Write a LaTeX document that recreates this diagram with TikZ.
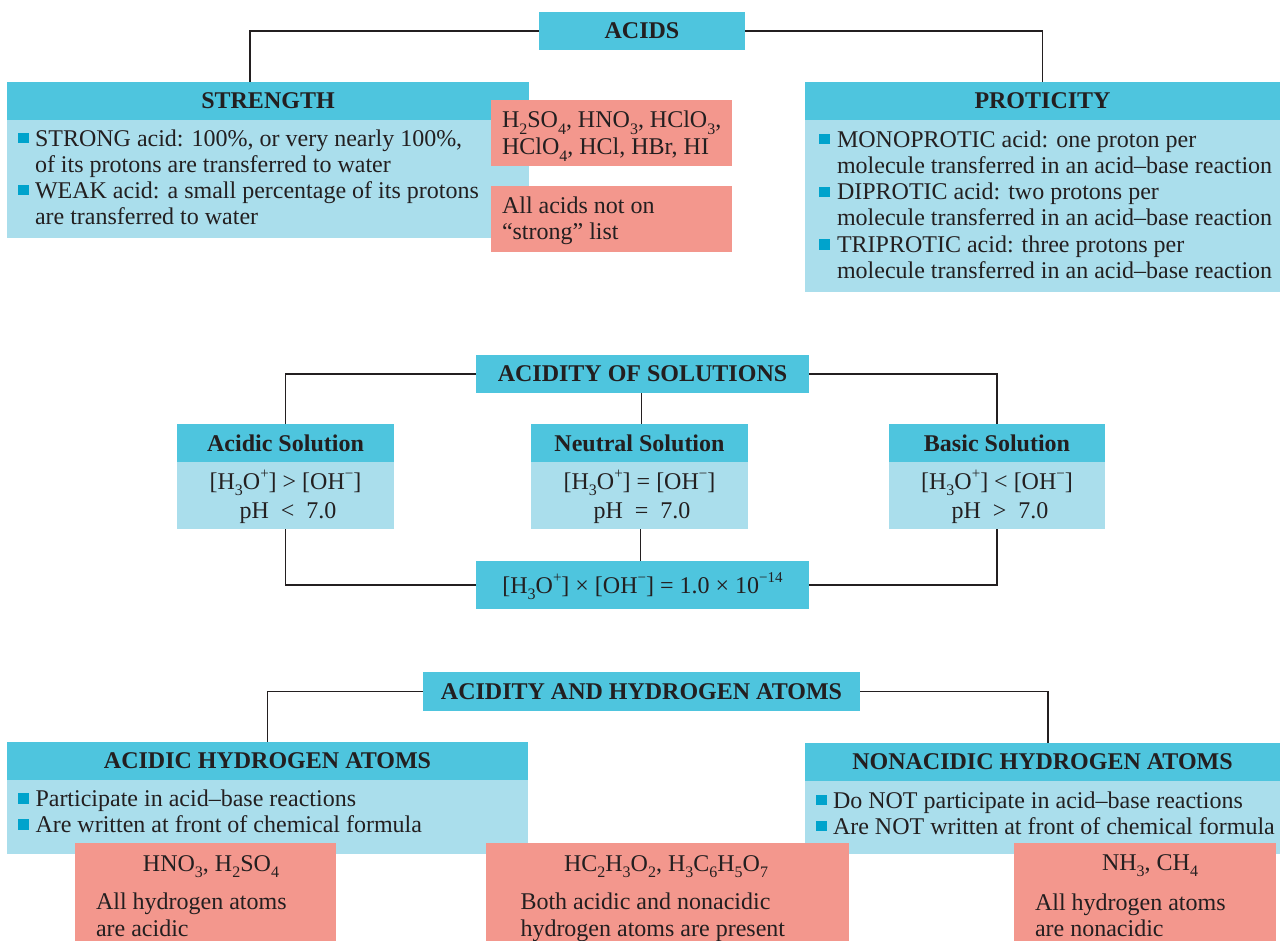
\documentclass[tikz,border=0pt]{standalone}
\usepackage{fontspec}
\setmainfont{Liberation Serif}
\definecolor{hdrc}{HTML}{4EC5DE}
\definecolor{bodyc}{HTML}{AADEEC}
\definecolor{salc}{HTML}{F3978D}
\definecolor{bulc}{HTML}{00A3CC}
\definecolor{ink}{HTML}{231F20}
\newcommand\sbs[1]{\raisebox{-0.27em}{\fontsize{16}{16}\selectfont #1}}
\newcommand\sps[1]{\raisebox{0.45em}{\fontsize{15}{15}\selectfont #1}}
\newcommand\mns{−}
\begin{document}
\begin{tikzpicture}[x=1pt,y=-1pt,
  every node/.style={inner sep=0pt, outer sep=0pt, text=ink},
  hdr/.style={fill=hdrc, anchor=north west, font=\bfseries\fontsize{24}{26}\selectfont},
  bodybox/.style={fill=bodyc, anchor=north west},
  salm/.style={fill=salc, anchor=north west},
  txt/.style={anchor=base west, font=\fontsize{24}{26}\selectfont},
  ctxt/.style={anchor=base, font=\fontsize{24}{26}\selectfont},
  bul/.style={fill=bulc, minimum width=11pt, minimum height=10.5pt, anchor=north west},
  conn/.style={draw=ink, line width=1.3pt}
]
\useasboundingbox (0,0) rectangle (1280,941);
\fill[white] (0,0) rectangle (1280,941);

% ---------------- ACIDS ----------------
\node[hdr, minimum width=206pt, minimum height=38pt] (acids) at (539,12) {ACIDS};

\node[bodybox, minimum width=522pt, minimum height=118pt] (strB) at (7,120) {};
\node[hdr, minimum width=522pt, minimum height=38pt] (strH) at (7,82) {STRENGTH};
\node[bul] (sb1) at (18,133) {};
\node[txt] (st1) at (35,147) {STRONG acid: 100\%, or very nearly 100\%,};
\node[txt] (st2) at (35,173) {of its protons are transferred to water};
\node[bul] (sb2) at (18,185) {};
\node[txt] (st3) at (35,199) {WEAK acid: a small percentage of its protons};
\node[txt] (st4) at (35,225) {are transferred to water};

\node[salm, minimum width=241pt, minimum height=66pt] (sal1) at (491,100) {};
\node[txt] (sa1) at (502,128) {H\sbs{2}SO\sbs{4}, HNO\sbs{3}, HClO\sbs{3},};
\node[txt] (sa2) at (502,155) {HClO\sbs{4}, HCl, HBr, HI};
\node[salm, minimum width=241pt, minimum height=66pt] (sal2) at (491,186) {};
\node[txt] (sa3) at (502,214) {All acids not on};
\node[txt] (sa4) at (502,240) {“strong” list};

\node[bodybox, minimum width=475pt, minimum height=172pt] (proB) at (805,120) {};
\node[hdr, minimum width=475pt, minimum height=38pt] (proH) at (805,82) {PROTICITY};
\node[bul] (pb1) at (819,134) {};
\node[txt] (pt1) at (837,147.3) {MONOPROTIC acid: one proton per};
\node[txt] (pt2) at (837,173.3) {molecule transferred in an acid–base reaction};
\node[bul] (pb2) at (819,187) {};
\node[txt] (pt3) at (837,199.6) {DIPROTIC acid: two protons per};
\node[txt] (pt4) at (837,226) {molecule transferred in an acid–base reaction};
\node[bul] (pb3) at (819,239.5) {};
\node[txt] (pt5) at (837,252.7) {TRIPROTIC acid: three protons per};
\node[txt] (pt6) at (837,278.5) {molecule transferred in an acid–base reaction};

\draw[conn] (acids.west) -| ([xshift=-18pt]strH.north);
\draw[conn] (acids.east) -| (proH.north);

% ---------------- ACIDITY OF SOLUTIONS ----------------
\node[hdr, minimum width=333pt, minimum height=38pt] (aos) at (476,355) {ACIDITY OF SOLUTIONS};

\node[bodybox, minimum width=217pt, minimum height=67pt] (acB) at (177,462) {};
\node[hdr, minimum width=217pt, minimum height=38pt] (acH) at (177,424) {Acidic Solution};
\node[ctxt] (ac1) at (285.5,489) {[H\sbs{3}O\sps{+}] > [OH\sps{\mns}]};
\node[ctxt] (ac2) at (288,518) {pH\enspace<\enspace7.0};

\node[bodybox, minimum width=217pt, minimum height=67pt] (neB) at (531,462) {};
\node[hdr, minimum width=217pt, minimum height=38pt] (neH) at (531,424) {Neutral Solution};
\node[ctxt] (ne1) at (639.5,489) {[H\sbs{3}O\sps{+}] = [OH\sps{\mns}]};
\node[ctxt] (ne2) at (642,518) {pH\enspace=\enspace7.0};

\node[bodybox, minimum width=216pt, minimum height=67pt] (baB) at (889,462) {};
\node[hdr, minimum width=216pt, minimum height=38pt] (baH) at (889,424) {Basic Solution};
\node[ctxt] (ba1) at (997,489) {[H\sbs{3}O\sps{+}] < [OH\sps{\mns}]};
\node[ctxt] (ba2) at (1000,518) {pH\enspace>\enspace7.0};

\node[hdr, minimum width=333pt, minimum height=48pt] (prod) at (476,561) {};
\node[ctxt] (pr1) at (642.5,593) {[H\sbs{3}O\sps{+}] × [OH\sps{\mns}] = 1.0 × 10\sps{\mns14}};

\draw[conn] (aos.west) -| (acH.north);
\draw[conn] (aos.east) -| (baH.north);
\draw[conn] ([xshift=-1pt]aos.south) -- ([xshift=-1pt]aos.south |- neH.north);
\draw[conn] (acB.south) |- (prod.west);
\draw[conn] (baB.south) |- (prod.east);
\draw[conn] ([xshift=1pt]neB.south) -- ([xshift=1pt]neB.south |- prod.north);

% ---------------- ACIDITY AND HYDROGEN ATOMS ----------------
\node[hdr, minimum width=437pt, minimum height=39pt] (aha) at (423,672) {ACIDITY AND HYDROGEN ATOMS};

\node[bodybox, minimum width=521pt, minimum height=74pt] (ahB) at (7,780) {};
\node[hdr, minimum width=521pt, minimum height=38pt] (ahH) at (7,742) {ACIDIC HYDROGEN ATOMS};
\node[bul] (hb1) at (18,793) {};
\node[txt] (ht1) at (35.5,806) {Participate in acid–base reactions};
\node[bul] (hb2) at (18,819) {};
\node[txt] (ht2) at (35.5,832) {Are written at front of chemical formula};

\node[bodybox, minimum width=475pt, minimum height=73pt] (nahB) at (805,781) {};
\node[hdr, minimum width=475pt, minimum height=38pt] (nahH) at (805,743) {NONACIDIC HYDROGEN ATOMS};
\node[bul] (nb1) at (816,794.5) {};
\node[txt] (nt1) at (833,808) {Do NOT participate in acid–base reactions};
\node[bul] (nb2) at (816,820.5) {};
\node[txt] (nt2) at (833,834) {Are NOT written at front of chemical formula};

\node[salm, minimum width=261pt, minimum height=98pt] (salA) at (75,843) {};
\node[ctxt] (sA1) at (211,871) {HNO\sbs{3}, H\sbs{2}SO\sbs{4}};
\node[txt] (sA2) at (96,909) {All hydrogen atoms};
\node[txt] (sA3) at (96,936) {are acidic};

\node[salm, minimum width=363pt, minimum height=98pt] (salB) at (486,843) {};
\node[ctxt] (sB1) at (666,871) {HC\sbs{2}H\sbs{3}O\sbs{2}, H\sbs{3}C\sbs{6}H\sbs{5}O\sbs{7}};
\node[txt] (sB2) at (520.5,909) {Both acidic and nonacidic};
\node[txt] (sB3) at (520.5,936) {hydrogen atoms are present};

\node[salm, minimum width=262pt, minimum height=98pt] (salC) at (1014,843) {};
\node[ctxt] (sC1) at (1150,870) {NH\sbs{3}, CH\sbs{4}};
\node[txt] (sC2) at (1035,910) {All hydrogen atoms};
\node[txt] (sC3) at (1035,936) {are nonacidic};

\draw[conn] (aha.west) -| (ahH.north);
\draw[conn] (aha.east) -| ([xshift=5.5pt]nahH.north);
\end{tikzpicture}
\end{document}
